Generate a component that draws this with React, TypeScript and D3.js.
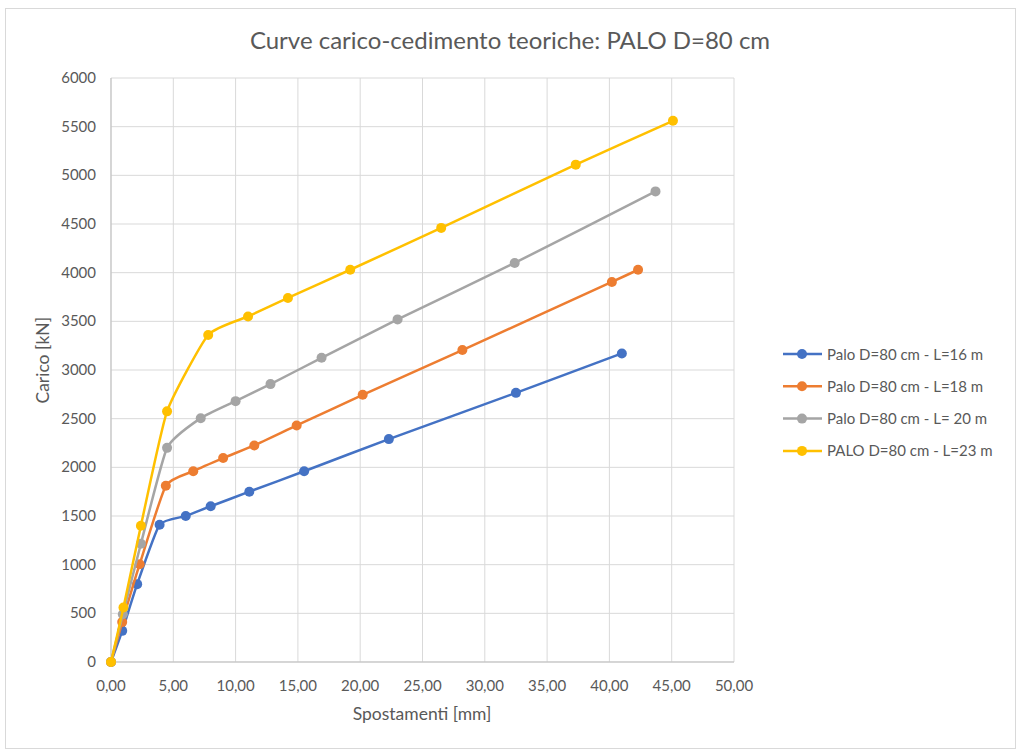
import * as d3 from "d3";

// Curve carico-cedimento teoriche, palo D=80 cm, four lengths.
const W = 1024;
const H = 756;

const seriesNames = [
  "Palo D=80 cm - L=16 m",
  "Palo D=80 cm - L=18 m",
  "Palo D=80 cm - L= 20 m",
  "PALO D=80 cm - L=23 m",
];
const seriesColors = ["#4472C4", "#ED7D31", "#A5A5A5", "#FFC000"];

// [spostamento mm, carico kN]
const l16: [number, number][] = [
  [0, 0], [0.9, 320], [2.1, 800], [3.9, 1410], [6.0, 1500], [8.0, 1600],
  [11.1, 1750], [15.5, 1960], [22.3, 2290], [32.5, 2765], [41.0, 3170],
];
const l18: [number, number][] = [
  [0, 0], [0.9, 410], [2.3, 1005], [4.4, 1810], [6.6, 1960], [9.0, 2095],
  [11.5, 2225], [14.9, 2430], [20.2, 2745], [28.2, 3205], [40.2, 3905], [42.3, 4030],
];
const l20: [number, number][] = [
  [0, 0], [0.95, 490], [2.4, 1215], [4.5, 2200], [7.2, 2505], [10.0, 2680],
  [12.8, 2855], [16.9, 3125], [23.0, 3520], [32.4, 4100], [43.7, 4835],
];
const l23: [number, number][] = [
  [0, 0], [1.0, 560], [2.4, 1400], [4.5, 2575], [7.8, 3360], [11.0, 3550],
  [14.2, 3740], [19.2, 4030], [26.5, 4460], [37.3, 5110], [45.1, 5560],
];
const allSeries = [l16, l18, l20, l23];

const xTicks = [0, 5, 10, 15, 20, 25, 30, 35, 40, 45, 50];
const yTicks = [0, 500, 1000, 1500, 2000, 2500, 3000, 3500, 4000, 4500, 5000, 5500, 6000];

const FONT = "Lato, 'Open Sans', sans-serif";
const TXT = "#595959";
const GRID = "#d9d9d9";

const x = d3.scaleLinear().domain([0, 50]).range([111, 734]);
const y = d3.scaleLinear().domain([0, 6000]).range([662, 78]);

const line = d3
  .line<[number, number]>()
  .x((d) => x(d[0]))
  .y((d) => y(d[1]))
  .curve(d3.curveCardinal.tension(0.5));

const fmtX = (v: number) => v.toFixed(2).replace(".", ",");

export default function App() {
  return (
    <svg
      width={W}
      height={H}
      viewBox={`0 0 ${W} ${H}`}
      style={{ position: "absolute", left: 0, top: 0, display: "block", background: "#fff" }}
    >
      <rect x={5.5} y={8.5} width={1010} height={740} fill="#fff" stroke={GRID} strokeWidth={1} />

      <text x={510} y={49} textAnchor="middle" fontFamily={FONT} fontSize={24} fill={TXT}>
        Curve carico-cedimento teoriche: PALO D=80 cm
      </text>

      {/* grid */}
      {yTicks.map((t) => (
        <line key={"gy" + t} x1={x(0)} x2={x(50)} y1={y(t)} y2={y(t)} stroke={GRID} strokeWidth={1} />
      ))}
      {xTicks.map((t) => (
        <line key={"gx" + t} x1={x(t)} x2={x(t)} y1={y(0)} y2={y(6000)} stroke={GRID} strokeWidth={1} />
      ))}
      <line x1={x(0)} x2={x(0)} y1={y(0)} y2={y(6000)} stroke="#bfbfbf" strokeWidth={1} />
      <line x1={x(0)} x2={x(50)} y1={y(0)} y2={y(0)} stroke="#bfbfbf" strokeWidth={1} />

      {/* tick labels */}
      {yTicks.map((t) => (
        <text key={"ty" + t} x={96} y={y(t) + 5} textAnchor="end" fontFamily={FONT} fontSize={15} fill={TXT}>
          {t}
        </text>
      ))}
      {xTicks.map((t) => (
        <text key={"tx" + t} x={x(t)} y={691} textAnchor="middle" fontFamily={FONT} fontSize={15} fill={TXT}>
          {fmtX(t)}
        </text>
      ))}

      <text x={422} y={720} textAnchor="middle" fontFamily={FONT} fontSize={17.5} fill={TXT}>
        Spostamenti [mm]
      </text>
      <text
        transform={`translate(49, ${y(3100)}) rotate(-90)`}
        textAnchor="middle"
        fontFamily={FONT}
        fontSize={17.5}
        fill={TXT}
      >
        Carico [kN]
      </text>

      {/* series */}
      {allSeries.map((s, i) => (
        <g key={"s" + i}>
          <path d={line(s) ?? ""} fill="none" stroke={seriesColors[i]} strokeWidth={2.5} strokeLinejoin="round" />
          {s.map((d, j) => (
            <circle key={j} cx={x(d[0])} cy={y(d[1])} r={5} fill={seriesColors[i]} />
          ))}
        </g>
      ))}

      {/* legend */}
      {seriesNames.map((n, i) => {
        const ly = 354 + i * 32.3;
        return (
          <g key={"l" + i}>
            <line x1={783} x2={822} y1={ly} y2={ly} stroke={seriesColors[i]} strokeWidth={2.5} />
            <circle cx={802} cy={ly} r={5} fill={seriesColors[i]} />
            <text x={827} y={ly + 5.5} fontFamily={FONT} fontSize={15} fill={TXT}>
              {n}
            </text>
          </g>
        );
      })}
    </svg>
  );
}
